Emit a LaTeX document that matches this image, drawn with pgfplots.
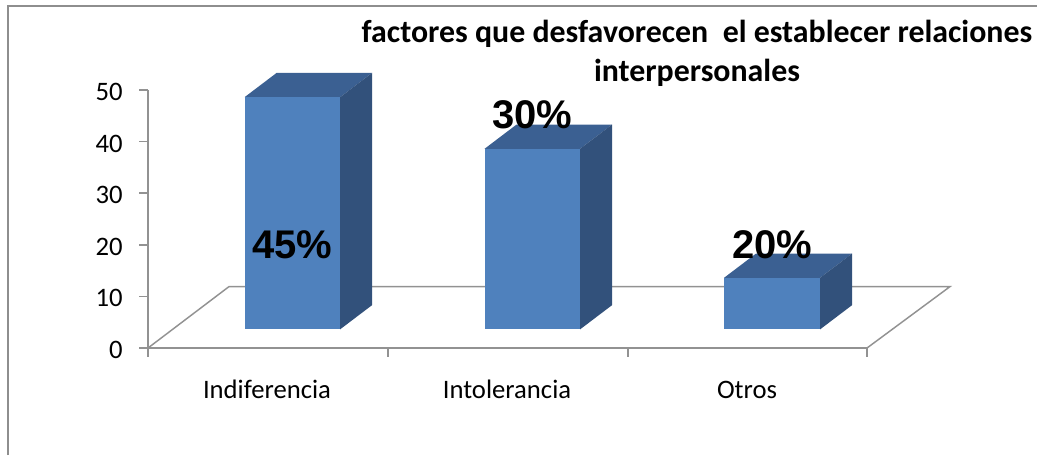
\documentclass[border=0pt]{standalone}
\usepackage{pgfplots}
\pgfplotsset{compat=1.18}
\usepackage{fontspec}
\setmainfont{Carlito}
\newfontfamily\arialb[BoldFont=Liberation Sans Bold]{Liberation Sans}
\definecolor{frontc}{HTML}{4F81BD}
\definecolor{topc}{HTML}{3B6092}
\definecolor{sidec}{HTML}{32517B}
\definecolor{linec}{HTML}{929292}
\definecolor{framec}{HTML}{8E8E8E}
\begin{document}
\begin{tikzpicture}
\useasboundingbox (0,0) rectangle (777.75pt,-341.25pt);
\draw[framec,line width=1.5pt] (6pt,-341.25pt) -- (6pt,-4.5pt) -- (777.75pt,-4.5pt);
\begin{axis}[
  at={(111pt,-261pt)}, anchor=origin,
  scale only axis, width=539.25pt, height=193.5pt,
  xmin=148, xmax=867, ymin=0, ymax=50,
  clip=false,
  axis lines=left,
  axis line style={-,linec,line width=1.2pt},
  every tick/.style={linec,line width=1.2pt},
  tick align=outside,
  major tick length=6.5pt,
  ytick={0,10,20,30,40,50},
  xtick={148,388,628,867},
  xticklabels={},
  extra x ticks={267,507,747},
  extra x tick labels={Indiferencia,Intolerancia,Otros},
  extra x tick style={major tick length=0pt, tick label style={yshift=-20pt, text height=14pt, text depth=5pt}},
  tick label style={font=\fontsize{20pt}{24pt}\selectfont, /pgf/number format/assume math mode=true},
  yticklabel style={xshift=-9pt, yshift=-1.5pt},
]
% floor
\addplot[linec,line width=1.1pt] coordinates {(148,0) (229,11.9) (950,11.9) (867,0)};
% Indiferencia
\addplot[fill=topc,draw=none] coordinates {(244.5,48.6) (340,48.6) (372,53.3) (276.5,53.3)} --cycle;
\addplot[fill=sidec,draw=none] coordinates {(340,3.6) (372,8.3) (372,53.3) (340,48.6)} --cycle;
\addplot[fill=frontc,draw=none] coordinates {(244.5,3.6) (340,3.6) (340,48.6) (244.5,48.6)} --cycle;
% Intolerancia
\addplot[fill=topc,draw=none] coordinates {(484.5,38.6) (580,38.6) (612,43.3) (516.5,43.3)} --cycle;
\addplot[fill=sidec,draw=none] coordinates {(580,3.6) (612,8.3) (612,43.3) (580,38.6)} --cycle;
\addplot[fill=frontc,draw=none] coordinates {(484.5,3.6) (580,3.6) (580,38.6) (484.5,38.6)} --cycle;
% Otros
\addplot[fill=topc,draw=none] coordinates {(724,13.6) (820,13.6) (852,18.3) (756,18.3)} --cycle;
\addplot[fill=sidec,draw=none] coordinates {(820,3.6) (852,8.3) (852,18.3) (820,13.6)} --cycle;
\addplot[fill=frontc,draw=none] coordinates {(724,3.6) (820,3.6) (820,13.6) (724,13.6)} --cycle;
% data labels
\node[font=\arialb\bfseries\fontsize{30pt}{30pt}\selectfont] at (axis cs:292.5,20) {45\%};
\node[font=\arialb\bfseries\fontsize{30pt}{30pt}\selectfont] at (axis cs:532.5,45.2) {30\%};
\node[font=\arialb\bfseries\fontsize{30pt}{30pt}\selectfont] at (axis cs:772.5,20) {20\%};
% title
\node[font=\bfseries\fontsize{23.9pt}{29.25pt}\selectfont, align=center] at (axis cs:697,57.2) {factores que desfavorecen\ \ el establecer relaciones\\interpersonales};
\end{axis}
\end{tikzpicture}
\end{document}
